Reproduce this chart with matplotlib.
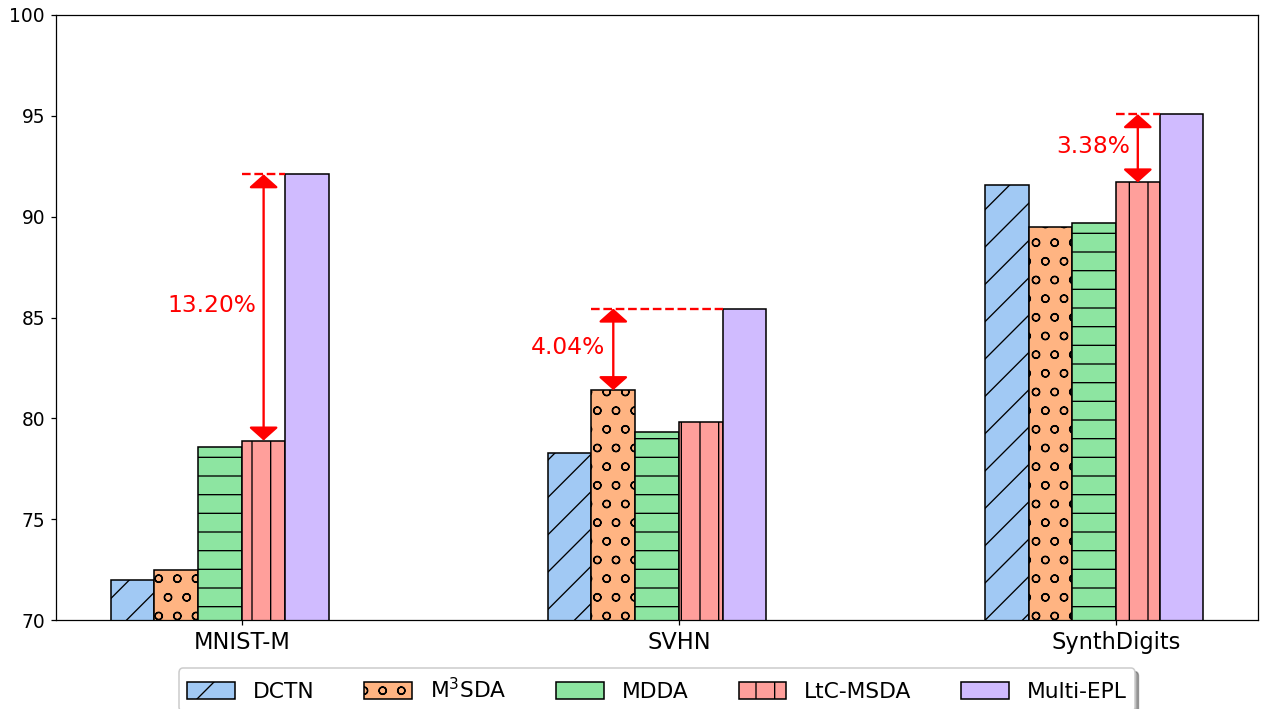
import numpy as np
import matplotlib
matplotlib.use('Agg')
import matplotlib.pyplot as plt

datasets = ['MNIST-M', 'SVHN', 'SynthDigits']
methods = ['DCTN', 'M$^3$SDA', 'MDDA', 'LtC-MSDA', 'Multi-EPL']
dctn = [72.0, 78.3, 91.55]
m3sda = [72.48, 81.4, 89.5]
mdda = [78.6, 79.3, 89.7]
ltc = [78.9, 79.8, 91.7]
multi_epl = [92.1, 85.44, 95.08]
gain_labels = ['13.20%', '4.04%', '3.38%']
# which baseline each gain is measured against (index into methods)
gain_ref = [3, 1, 3]

colors = ['#a1c9f4', '#ffb482', '#8de5a1', '#ff9f9b', '#d0bbff']
hatches = ['/', 'o', '-', '|', '']

plt.rcParams['hatch.linewidth'] = 0.85

dpi = 112
fig = plt.figure(figsize=(1270 / dpi, 709 / dpi), dpi=dpi)
ax = fig.add_axes([56 / 1270, 1 - 620 / 709, 1202 / 1270, 605 / 709])

x = np.arange(len(datasets))
w = 0.1
series = [dctn, m3sda, mdda, ltc, multi_epl]
for i, vals in enumerate(series):
    ax.bar(x + (i - 3) * w, vals, w, align='edge', color=colors[i],
           edgecolor='black', linewidth=1.0, hatch=hatches[i], label=methods[i])

for j in range(len(datasets)):
    ref = series[gain_ref[j]][j]
    top = multi_epl[j]
    left = x[j] + (gain_ref[j] - 3) * w
    xc = left + w / 2
    ax.plot([left, x[j] + w], [top, top], color='red', linestyle='--', lw=1.5)
    ax.annotate('', xy=(xc, top), xytext=(xc, ref),
                arrowprops=dict(arrowstyle='<|-|>,head_width=0.37,head_length=0.33',
                                color='red', lw=1.5, mutation_scale=22,
                                shrinkA=0, shrinkB=0))
    ax.annotate(gain_labels[j], xy=(xc, (top + ref) / 2), xytext=(-5, 1),
                textcoords='offset points', ha='right', va='center',
                color='red', fontsize=15)

ax.set_ylim(70, 100)
ax.set_yticks([70, 75, 80, 85, 90, 95, 100])
ax.set_xticks(x)
ax.set_xticklabels(datasets, fontsize=14.5)
ax.tick_params(axis='y', labelsize=12)

ax.legend(loc='upper center', bbox_to_anchor=(0.5, -0.062), ncol=5,
          fontsize=14, shadow=True, columnspacing=2.3,
          handlelength=2.2, handleheight=0.8)

fig.savefig('out.png', dpi=dpi)
